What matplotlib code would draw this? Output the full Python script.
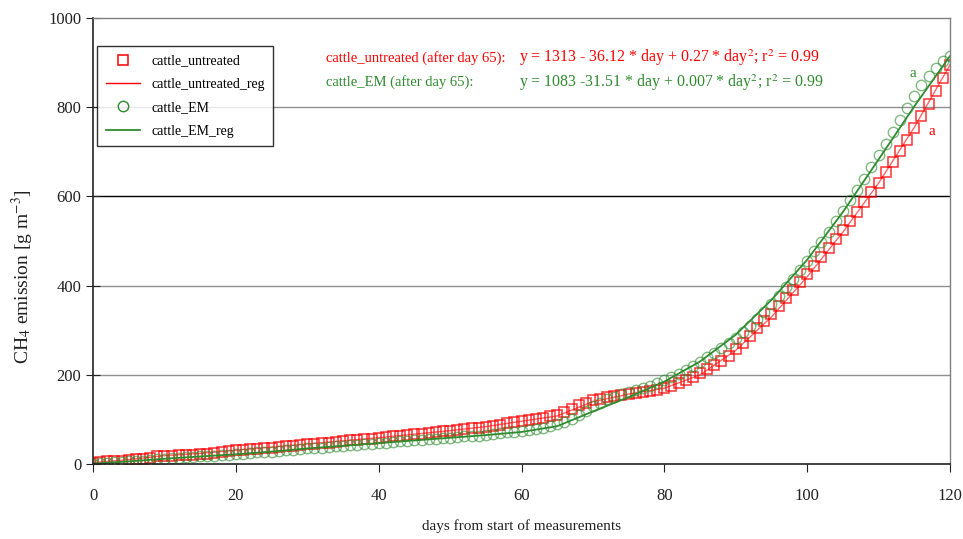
"""
CH4 emission of cattle slurry, untreated vs. EM treated.
"""

import numpy as np
from matplotlib import pyplot as plt

days = list(range(0, 121))

untreated = [
    3, 5, 6, 7, 8, 10, 11, 12, 14, 17,
    18, 19, 20, 21, 21, 22, 23, 24, 26, 29,
    31, 32, 33, 34, 35, 37, 38, 40, 41, 42,
    44, 46, 47, 48, 50, 51, 53, 54, 56, 57,
    59, 60, 62, 63, 65, 67, 68, 70, 72, 74,
    75, 77, 79, 80, 82, 84, 86, 88, 91, 94,
    97, 99, 101, 104, 107, 110, 117, 124, 132, 138,
    143, 147, 150, 153, 155, 157, 159, 161, 164, 167,
    171, 176, 182, 189, 196, 204, 213, 222, 232, 243,
    258, 272, 288, 304, 320, 337, 354, 372, 390, 408,
    426, 445, 464, 484, 504, 524, 545, 566, 587, 609,
    631, 654, 678, 702, 727, 753, 780, 808, 836, 865,
    895,
]

em = [
    1, 2, 3, 4, 5, 6, 7, 8, 10, 11,
    12, 13, 14, 15, 16, 17, 18, 19, 20, 21,
    22, 23, 25, 26, 27, 28, 30, 31, 32, 33,
    35, 36, 37, 38, 40, 41, 42, 43, 45, 46,
    47, 48, 50, 51, 52, 53, 54, 56, 57, 58,
    59, 60, 62, 63, 64, 66, 67, 69, 71, 73,
    75, 77, 79, 82, 85, 89, 94, 101, 110, 120,
    130, 138, 145, 151, 156, 161, 166, 171, 176, 182,
    188, 195, 203, 211, 220, 229, 239, 249, 260, 271,
    283, 296, 310, 326, 342, 359, 377, 396, 415, 435,
    456, 477, 499, 521, 544, 567, 591, 615, 640, 666,
    692, 718, 745, 772, 799, 825, 849, 870, 889, 904,
    915,
]

reg_days = list(range(0, 121, 5))
untreated_reg = [3, 10, 19, 24, 31, 38, 45, 52, 59, 67, 75, 84, 96,
                 108, 140, 157, 170, 200, 255, 330, 420, 520, 630, 755, 895]
em_reg = [1, 6, 12, 17, 22, 28, 35, 41, 47, 53, 59, 65, 72,
          85, 118, 150, 185, 230, 290, 368, 458, 565, 683, 802, 915]

RED = "#ff0000"
GREEN = "#2e8b2e"

plt.rcParams["font.family"] = ["Liberation Serif", "DejaVu Serif"]
plt.rcParams["mathtext.fontset"] = "stix"

fig = plt.figure(figsize=(9.63, 5.39), dpi=100)
ax = fig.add_axes([0.0966, 0.139, 0.8899, 0.8275])

ax.plot(days, untreated, "s", mfc="none", mec=RED, mew=1.1, ms=7.5,
        alpha=0.8, label="cattle_untreated")
ax.plot(reg_days, untreated_reg, "-", color=RED, lw=1.0, alpha=0.6,
        label="cattle_untreated_reg")
ax.plot(days, em, "o", mfc="none", mec=GREEN, mew=1.0, ms=7.5,
        alpha=0.6, label="cattle_EM")
ax.plot(reg_days, em_reg, "-", color=GREEN, lw=1.3,
        label="cattle_EM_reg")

ax.set_xlim(0, 120)
ax.set_ylim(0, 1000)
ax.set_xticks(np.arange(0, 121, 20))
ax.set_yticks(np.arange(0, 1001, 200))

for y in (200, 400, 800):
    ax.axhline(y, color="#909090", lw=1.0, zorder=0)
ax.axhline(600, color="black", lw=1.0, zorder=0)

for side in ("left", "bottom"):
    ax.spines[side].set_color("#222222")
    ax.spines[side].set_linewidth(1.2)
for side in ("top", "right"):
    ax.spines[side].set_color("#808080")
    ax.spines[side].set_linewidth(1.0)

ax.tick_params(axis="x", direction="out", length=6, labelsize=12,
               pad=11, colors="#222222")
ax.tick_params(axis="y", direction="inout", length=10, labelsize=12,
               colors="#222222")

ax.set_xlabel("days from start of measurements", fontsize=11,
              labelpad=11, color="#222222")
ax.set_ylabel(r"CH$_4$ emission [g m$^{-3}$]", fontsize=14,
              color="#222222")
ax.yaxis.set_label_coords(-0.066, 0.42)

leg = ax.legend(loc="upper left", bbox_to_anchor=(0.005, 0.937),
                fontsize=10, frameon=True, fancybox=False,
                borderaxespad=0, borderpad=0.6, labelspacing=0.75,
                handlelength=2.5)
leg.get_frame().set_edgecolor("black")
leg.get_frame().set_linewidth(1.0)
for h in leg.legend_handles:
    h.set_alpha(1.0)

ax.text(0.272, 0.91, "cattle_untreated (after day 65):", color=RED,
        fontsize=10.5, va="center", transform=ax.transAxes)
ax.text(0.497, 0.91, r"y = 1313 - 36.12 * day + 0.27 * day$^2$; r$^2$ = 0.99",
        color=RED, fontsize=11.4, va="center", transform=ax.transAxes)
ax.text(0.272, 0.856, "cattle_EM (after day 65):", color=GREEN,
        fontsize=10.5, va="center", transform=ax.transAxes)
ax.text(0.497, 0.856, r"y = 1083 -31.51 * day + 0.007 * day$^2$; r$^2$ = 0.99",
        color=GREEN, fontsize=11.4, va="center", transform=ax.transAxes)

ax.text(114.8, 868, "a", color=GREEN, fontsize=11, ha="center")
ax.text(117.5, 738, "a", color=RED, fontsize=11, ha="center")

fig.savefig("out.png", dpi=100)
